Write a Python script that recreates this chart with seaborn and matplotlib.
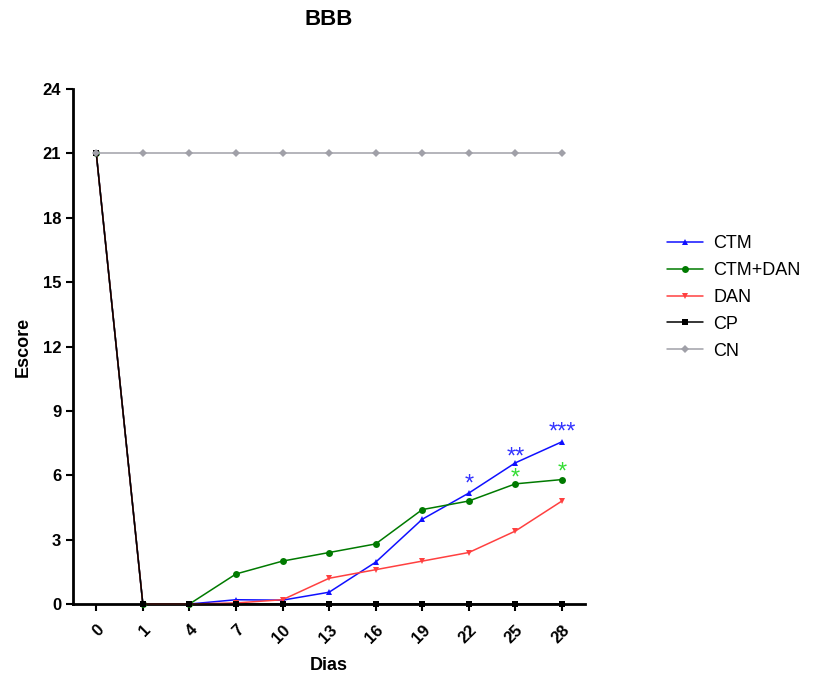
import matplotlib
matplotlib.use("Agg")
import matplotlib.pyplot as plt
import seaborn as sns
import pandas as pd

days = ["0", "1", "4", "7", "10", "13", "16", "19", "22", "25", "28"]
ctm = [21, 0, 0, 0.2, 0.18, 0.55, 1.95, 3.95, 5.17, 6.58, 7.56]
ctm_dan = [21, 0, 0, 1.4, 2.0, 2.4, 2.8, 4.4, 4.8, 5.6, 5.8]
dan = [21, 0, 0, 0.05, 0.2, 1.2, 1.6, 2.0, 2.4, 3.4, 4.8]
cp = [21, 0, 0, 0, 0, 0, 0, 0, 0, 0, 0]
cn = [21, 21, 21, 21, 21, 21, 21, 21, 21, 21, 21]
groups = ["CTM", "CTM+DAN", "DAN", "CP", "CN"]
yticks = [0, 3, 6, 9, 12, 15, 18, 21, 24]

# significance marks: (group, day, text, y position)
sig_group = ["CTM", "CTM", "CTM", "CTM+DAN", "CTM+DAN"]
sig_day = ["22", "25", "28", "25", "28"]
sig_text = ["*", "**", "***", "*", "*"]
sig_y = [5.3, 6.55, 7.7, 5.55, 5.85]

colors = {"CTM": "#1010FF", "CTM+DAN": "#007A00", "DAN": "#FF4040",
          "CP": "#000000", "CN": "#A0A0A8"}
star_colors = {"CTM": "#3333FF", "CTM+DAN": "#33DD33"}
markers = {"CTM": "^", "CTM+DAN": "o", "DAN": "v", "CP": "s", "CN": "D"}

series = {"CTM": ctm, "CTM+DAN": ctm_dan, "DAN": dan, "CP": cp, "CN": cn}
rows = []
for g in groups:
    for d, v in zip(days, series[g]):
        rows.append({"Dias": d, "Escore": v, "Grupo": g})
df = pd.DataFrame(rows)
df["Dias"] = pd.Categorical(df["Dias"], categories=days, ordered=True)
df["pos"] = df["Dias"].cat.codes

sns.set_style("white")
plt.rcParams["font.family"] = ["Liberation Sans", "DejaVu Sans"]
plt.rcParams["text.color"] = "black"
plt.rcParams["axes.labelcolor"] = "black"
plt.rcParams["xtick.color"] = "black"
plt.rcParams["ytick.color"] = "black"

fig = plt.figure(figsize=(8.13, 6.73), dpi=100)
ax = fig.add_axes([0.0898, 0.1025, 0.63, 0.7652])

ms = {"CTM": 5, "CTM+DAN": 5, "DAN": 5, "CP": 5, "CN": 4}
for i, g in enumerate(groups):
    sub = df[df["Grupo"] == g]
    sns.lineplot(data=sub, x="pos", y="Escore", color=colors[g], marker=markers[g],
                 markersize=ms[g], markeredgewidth=0, linewidth=1.1, ax=ax,
                 label=g, legend=False, zorder=3 + i, clip_on=False)

for g, d, t, y in zip(sig_group, sig_day, sig_text, sig_y):
    ax.text(days.index(d), y, t, color=star_colors[g], fontsize=17,
            ha="center", va="baseline")

ax.set_xlim(-0.5, 10.5)
ax.set_ylim(0, 24)
ax.set_yticks(yticks)
ax.set_yticklabels([str(t) for t in yticks], fontsize=12, fontweight="bold")
ax.set_xticks(range(len(days)))
ax.set_xticklabels(days, rotation=45, ha="right", rotation_mode="anchor",
                   fontsize=12, fontweight="bold")
ax.tick_params(axis="both", direction="out", length=5, width=1.5, bottom=True, left=True,
               colors="black")
ax.tick_params(axis="x", pad=8)
for s in ["top", "right"]:
    ax.spines[s].set_visible(False)
for s in ["left", "bottom"]:
    ax.spines[s].set_linewidth(2)
    ax.spines[s].set_color("black")
ax.set_xlabel("Dias", fontsize=13, fontweight="bold", labelpad=8, color="black")
ax.set_ylabel("Escore", fontsize=13, fontweight="bold", labelpad=8, color="black")
ax.set_title("BBB", fontsize=16, fontweight="bold", pad=46, color="black")

handles, labels = ax.get_legend_handles_labels()
order = [labels.index(g) for g in groups]
fig.legend([handles[i] for i in order], [labels[i] for i in order],
           loc="upper left", bbox_to_anchor=(0.8, 0.675), frameon=False,
           fontsize=13, handlelength=2.0, labelspacing=0.55, handletextpad=0.6)

fig.savefig("out.png", dpi=100)
